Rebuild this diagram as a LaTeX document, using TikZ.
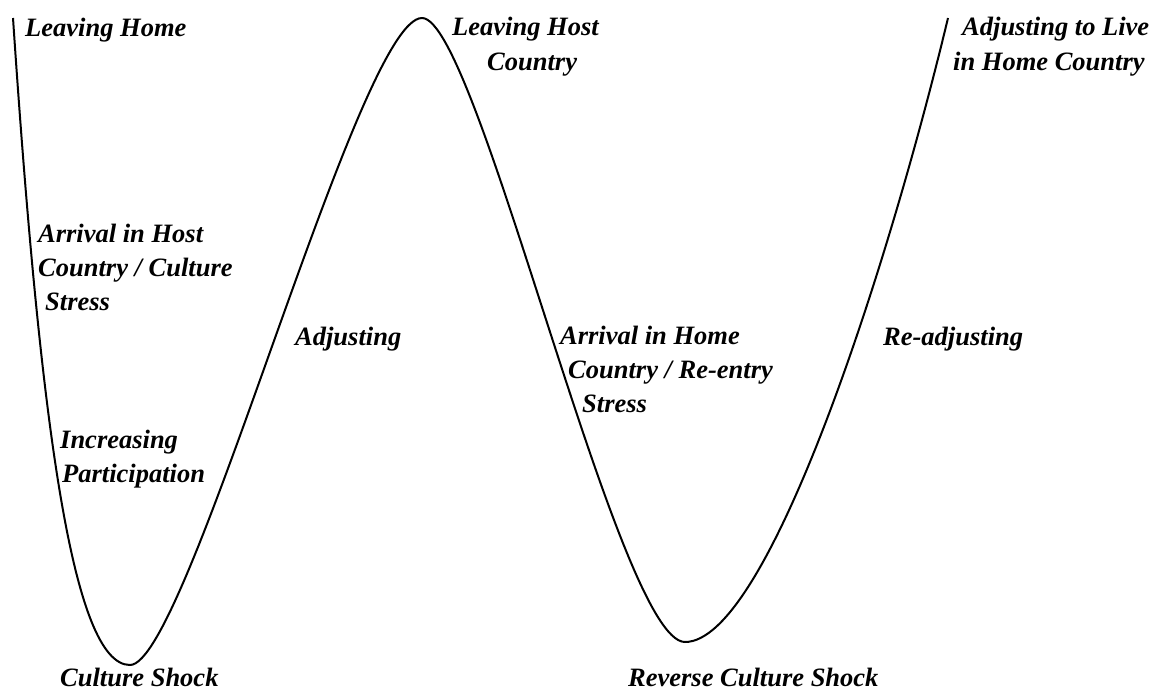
\documentclass[tikz,border=0pt]{standalone}
\usepackage{fontspec}
\setmainfont{Liberation Serif}
\begin{document}
\begin{tikzpicture}[x=1pt,y=-1pt,
  lbl/.style={anchor=base west,inner sep=0pt,font=\fontsize{26.5}{34}\selectfont\bfseries\itshape},
  curve/.style={line width=2pt,line join=round}]
\useasboundingbox (0,0) rectangle (1157,691);
\coordinate (s) at (13,18);
\coordinate (m1) at (130,665);
\coordinate (p1) at (422,18);
\coordinate (m2) at (685,642);
\coordinate (e) at (948,18);
\draw[curve] (s) .. controls (40,420) and (72,665) .. (m1)
  .. controls (188,665) and (358,18) .. (p1)
  .. controls (478,18) and (618,642) .. (m2)
  .. controls (768,642) and (888,268) .. (e);
\node[lbl] (lh) at (25,36) {Leaving Home};
\node[lbl] (lhc1) at (452,35) {Leaving Host};
\node[lbl] (lhc2) at (487,70) {Country};
\node[lbl] (al1) at (962,35) {Adjusting to Live};
\node[lbl] (al2) at (953,70) {in Home Country};
\node[lbl] (ah1) at (38,242) {Arrival in Host};
\node[lbl] (ah2) at (38,276) {Country / Culture};
\node[lbl] (ah3) at (45,310) {Stress};
\node[lbl] (ip1) at (60,448) {Increasing};
\node[lbl] (ip2) at (62,482) {Participation};
\node[lbl] (adj) at (295,345) {Adjusting};
\node[lbl] (ar1) at (560,344) {Arrival in Home};
\node[lbl] (ar2) at (568,378) {Country / Re-entry};
\node[lbl] (ar3) at (582,412) {Stress};
\node[lbl] (radj) at (883,345) {Re-adjusting};
\node[lbl] (cs) at (60,686) {Culture Shock};
\node[lbl] (rcs) at (628,686) {Reverse Culture Shock};
\end{tikzpicture}
\end{document}
